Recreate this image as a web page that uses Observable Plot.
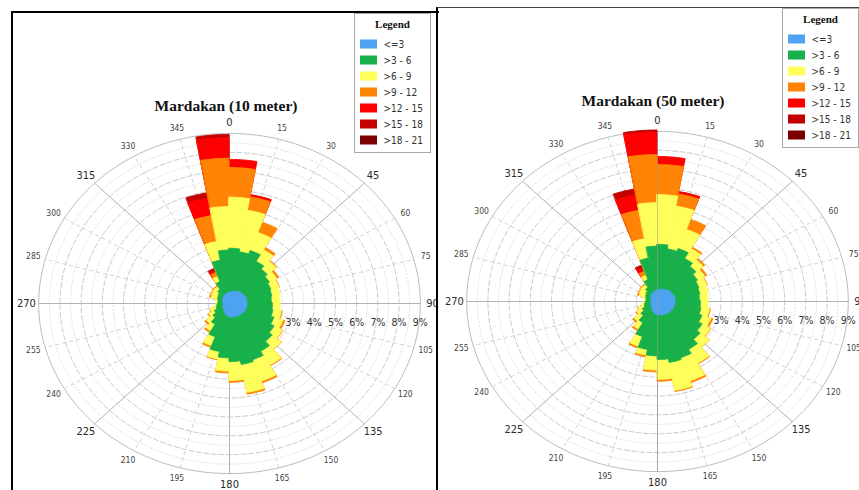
<!DOCTYPE html>
<html>
<head>
<meta charset="utf-8">
<script src="https://cdn.jsdelivr.net/npm/d3@7"></script>
<script src="https://cdn.jsdelivr.net/npm/@observablehq/plot@0.6"></script>
<style>
  html, body { margin: 0; padding: 0; background: #fff; }
  #page { position: relative; width: 859px; height: 490px; overflow: hidden; background: #fff; }
  .panel { position: absolute; top: 0; height: 490px; overflow: hidden; }
  .title { position: absolute; font-family: "Liberation Serif", "Times New Roman", serif; font-weight: bold;
           font-size: 15.5px; line-height: 16px; color: #111; white-space: nowrap; transform: translateX(-50%); }
  .legend { position: absolute; box-sizing: border-box; width: 77px; height: 140px; border: 1px solid #a8a8a8; background: #fff; }
  .legend .lt { position: absolute; left: 0; right: 0; top: 4px; text-align: center; font-family: "Liberation Serif", serif;
                font-weight: bold; font-size: 11px; line-height: 12px; color: #111; }
  .legend .lp { position: absolute; left: 0; top: 20px; }
  .frame { position: absolute; pointer-events: none; }
</style>
</head>
<body>
<div id="page"></div>
<script>
// ---------- categories / ticks ----------
const bins = ["<=3", ">3 - 6", ">6 - 9", ">9 - 12", ">12 - 15", ">15 - 18", ">18 - 21"];
const binColors = ["#4ea3f3", "#17b04a", "#ffff5c", "#ff8405", "#ff0000", "#c40000", "#7c0000"];
const directions = [0,10,20,30,40,50,60,70,80,90,100,110,120,130,140,150,160,170,180,190,200,210,220,230,240,250,260,270,280,290,300,310,320,330,340,350];
const sectorWidth = 10;
const angleLabels = [0,15,30,45,60,75,90,105,120,135,150,165,180,195,210,225,240,255,270,285,300,315,330,345];
const majorRings = [1,2,3,4,5,6,7,8];
const minorRings = [0.5,1.5,2.5,3.5,4.5,5.5,6.5,7.5,8.5];
const outerRing = 9;
const pctTicks = [3,4,5,6,7,8,9];

// ---------- Mardakan 10 m : frequency (%) per direction sector, by speed class ----------
const m10_le3   = [0.58,0.62,0.68,0.72,0.78,0.80,0.82,0.84,0.85,0.85,0.85,0.85,0.84,0.82,0.80,0.78,0.76,0.74,0.68,0.60,0.50,0.42,0.38,0.34,0.30,0.28,0.28,0.28,0.30,0.32,0.35,0.38,0.42,0.46,0.50,0.55];
const m10_3_6   = [2.32,2.13,2.27,1.83,1.57,1.40,1.28,1.21,1.15,1.20,1.25,1.40,1.61,1.83,2.15,2.42,2.54,2.36,2.22,2.00,1.40,0.88,0.62,0.46,0.35,0.32,0.27,0.24,0.22,0.26,0.27,0.30,0.40,0.74,1.80,2.25];
const m10_6_9   = [2.70,2.23,1.02,0.70,0.55,0.40,0.40,0.40,0.40,0.37,0.40,0.45,0.45,0.55,0.85,1.20,1.50,1.00,0.70,0.40,0.50,0.40,0.40,0.30,0.30,0.15,0.07,0.06,0.13,0.32,0.33,0.32,0.18,0.30,1.00,2.30];
const m10_9_12  = [1.57,0.72,0.58,0.15,0.05,0.12,0.03,0.00,0.00,0.00,0.05,0.10,0.03,0.02,0.05,0.10,0.10,0.10,0.10,0.05,0.10,0.10,0.10,0.06,0.03,0.00,0.00,0.00,0.00,0.08,0.05,0.05,0.06,0.22,1.40,2.56];
const m10_12_15 = [0.43,0.10,0,0,0,0,0,0,0,0,0,0,0,0,0,0,0,0,0,0,0,0,0,0,0,0,0,0,0,0,0,0,0,0.10,0.94,1.09];
const m10_15_18 = [0,0.02,0,0,0,0,0,0,0,0,0,0,0,0,0,0,0,0,0,0,0,0,0,0,0,0,0,0,0,0,0,0,0,0.13,0.28,0.17];
const m10_18_21 = [0,0,0,0,0,0,0,0,0,0,0,0,0,0,0,0,0,0,0,0,0,0,0,0,0,0,0,0,0,0,0,0,0,0,0,0];

// ---------- Mardakan 50 m ----------
const m50_le3   = [0.60,0.62,0.68,0.72,0.78,0.80,0.82,0.84,0.85,0.85,0.85,0.85,0.84,0.82,0.80,0.78,0.76,0.74,0.68,0.60,0.50,0.42,0.38,0.34,0.30,0.28,0.28,0.28,0.30,0.32,0.35,0.38,0.42,0.46,0.50,0.55];
const m50_3_6   = [2.40,2.18,2.27,1.88,1.62,1.40,1.28,1.21,1.15,1.20,1.25,1.40,1.61,1.83,2.15,2.42,2.54,2.36,2.22,2.00,1.50,0.90,0.62,0.46,0.35,0.32,0.27,0.24,0.22,0.26,0.27,0.30,0.40,0.74,1.80,2.35];
const m50_6_9   = [2.63,2.30,1.08,0.60,0.45,0.40,0.40,0.40,0.40,0.37,0.40,0.45,0.45,0.55,0.85,1.30,1.50,1.05,0.75,0.30,0.55,0.40,0.40,0.30,0.30,0.15,0.07,0.06,0.13,0.32,0.33,0.32,0.18,0.25,1.04,2.30];
const m50_9_12  = [1.59,0.65,0.57,0.10,0.10,0.12,0.03,0.00,0.00,0.00,0.05,0.10,0.03,0.02,0.05,0.10,0.06,0.10,0.10,0.10,0.10,0.10,0.10,0.06,0.03,0.00,0.00,0.00,0.00,0.08,0.05,0.05,0.06,0.23,1.53,2.55];
const m50_12_15 = [0.43,0.11,0,0,0,0,0,0,0,0,0,0,0,0,0,0,0,0,0,0,0,0,0,0,0,0,0,0,0,0,0,0,0,0.20,0.83,1.17];
const m50_15_18 = [0,0.02,0,0,0,0,0,0,0,0,0,0,0,0,0,0,0,0,0,0,0,0,0,0,0,0,0,0,0,0,0,0,0,0.15,0.32,0.13];
const m50_18_21 = [0,0,0,0,0,0,0,0,0,0,0,0,0,0,0,0,0,0,0,0,0,0,0,0,0,0,0,0,0,0,0,0,0,0,0,0];

const series10 = [m10_le3, m10_3_6, m10_6_9, m10_9_12, m10_12_15, m10_15_18, m10_18_21];
const series50 = [m50_le3, m50_3_6, m50_6_9, m50_9_12, m50_12_15, m50_15_18, m50_18_21];

// ---------- geometry helpers (polar -> cartesian in % units) ----------
const rad = a => a * Math.PI / 180;
const px = (r, a) => r * Math.sin(rad(a));
const py = (r, a) => r * Math.cos(rad(a));

function ringRows(radii) {
  const rows = [];
  for (const r of radii) for (let k = 0; k <= 180; k++) {
    const a = k * 2;
    rows.push({r, x: px(r, a), y: py(r, a)});
  }
  return rows;
}

// cumulative wedges from the centre, outermost class first so the inner ones paint over it
function wedgeRows(series) {
  const rows = [];
  directions.forEach((a0, i) => {
    const cum = [];
    let s = 0;
    series.forEach(vals => { s += vals[i]; cum.push(s); });
    for (let b = series.length - 1; b >= 0; b--) {
      if (!(series[b][i] > 0)) continue;
      const r1 = cum[b];
      const id = i * 10 + (series.length - 1 - b);
      for (let k = 0; k <= 10; k++) {
        const a = a0 + sectorWidth * k / 10;
        rows.push({id, order: i * 10 + (series.length - 1 - b), bin: bins[b], x1: 0, y1: 0, x2: px(r1, a), y2: py(r1, a)});
      }
    }
  });
  return rows;
}

const PXH = 21.2;  // px per 1% horizontally
const PXV = 18.9;  // px per 1% vertically
const labelR = 9.58;

function rose(series, cx, cy, width, axisOnTop) {
  const majorSpokes = angleLabels.filter(a => a % 45 === 0);
  const minorSpokes = angleLabels.filter(a => a % 45 !== 0);
  const rows = wedgeRows(series);
  // draw all sectors' outer classes first, then inner ones (by class rank)
  const byRank = d3.groups(rows, d => d.order % 10).sort((a, b) => a[0] - b[0]).map(g => g[1]);
  return Plot.plot({
    width, height: 490, margin: 0,
    x: {domain: [0, 1], range: [cx, cx + PXH], axis: null},
    y: {domain: [0, 1], range: [cy, cy - PXV], axis: null},
    color: {domain: bins, range: binColors},
    style: {background: "transparent", fontFamily: "'DejaVu Sans Condensed', 'DejaVu Sans', sans-serif", overflow: "visible"},
    marks: [
      Plot.line(ringRows(minorRings), {x: "x", y: "y", z: "r", stroke: "#d2d2d2", strokeWidth: 0.7, strokeDasharray: "1.2,2.2"}),
      Plot.line(ringRows(majorRings), {x: "x", y: "y", z: "r", stroke: "#bcbcbc", strokeWidth: 0.8, strokeDasharray: "5,2.5"}),
      Plot.line(ringRows([outerRing]), {x: "x", y: "y", z: "r", stroke: "#b4b4b4", strokeWidth: 0.9}),
      Plot.link(minorSpokes, {x1: () => 0, y1: () => 0, x2: a => px(outerRing, a), y2: a => py(outerRing, a),
        stroke: "#c6c6c6", strokeWidth: 0.8, strokeDasharray: "4,3"}),
      Plot.link(majorSpokes, {x1: () => 0, y1: () => 0, x2: a => px(outerRing, a), y2: a => py(outerRing, a),
        stroke: "#a9a9a9", strokeWidth: 0.9}),
      ...byRank.map(rs => Plot.area(rs, {x1: "x1", y1: "y1", x2: "x2", y2: "y2", z: "id", fill: "bin", stroke: "bin",
        strokeWidth: 0.9, strokeLinejoin: "round"})),
      ...(axisOnTop ? [Plot.link([0], {x1: () => 0, y1: () => outerRing, x2: () => 0, y2: () => -outerRing,
        stroke: "#9a9a9a", strokeWidth: 0.7, strokeOpacity: 0.8})] : []),
      Plot.text(majorSpokes, {x: a => px(labelR, a), y: a => py(labelR, a), text: a => String(a),
        fontSize: 11, fill: "#2a2a2a", textAnchor: "middle", lineAnchor: "middle"}),
      Plot.text(minorSpokes, {x: a => px(labelR, a), y: a => py(labelR, a), text: a => String(a),
        fontSize: 8.5, fill: "#444", textAnchor: "middle", lineAnchor: "middle"}),
      Plot.text(pctTicks, {x: d => d, y: () => -1.0, text: d => d + "%", fontSize: 10.5, fill: "#333",
        textAnchor: "middle", lineAnchor: "middle"})
    ]
  });
}

function legendPlot() {
  return Plot.plot({
    width: 75, height: 119, margin: 0,
    x: {domain: [0, 1], range: [5, 22], axis: null},
    y: {type: "band", domain: bins, range: [1, 114], padding: 0, axis: null},
    color: {domain: bins, range: binColors},
    style: {background: "transparent", fontFamily: "'DejaVu Sans Condensed', 'DejaVu Sans', sans-serif"},
    marks: [
      Plot.barX(bins, {y: d => d, x1: () => 0, x2: () => 1, fill: d => d, insetTop: 3.5, insetBottom: 3.5}),
      Plot.text(bins, {y: d => d, x: () => 1, dx: 6, text: d => d, textAnchor: "start", fontSize: 10, fill: "#333"})
    ]
  });
}

// ---------- layout ----------
const page = document.getElementById("page");

function addPanel(left, width, series, cx, cy, axisOnTop, title, titleX, titleTop, legLeft, legTop) {
  const p = document.createElement("div");
  p.className = "panel";
  p.style.left = left + "px";
  p.style.width = width + "px";
  p.appendChild(rose(series, cx, cy, width, axisOnTop));
  page.appendChild(p);

  const t = document.createElement("div");
  t.className = "title";
  t.textContent = title;
  t.style.left = titleX + "px";
  t.style.top = titleTop + "px";
  page.appendChild(t);

  const lg = document.createElement("div");
  lg.className = "legend";
  lg.style.left = legLeft + "px";
  lg.style.top = legTop + "px";
  const lt = document.createElement("div");
  lt.className = "lt";
  lt.textContent = "Legend";
  lg.appendChild(lt);
  const lp = document.createElement("div");
  lp.className = "lp";
  lp.appendChild(legendPlot());
  lg.appendChild(lp);
  page.appendChild(lg);
}

addPanel(0, 437, series10, 229, 303, false, "Mardakan (10 meter)", 226, 98, 354, 13);
addPanel(437, 422, series50, 220, 301, true, "Mardakan (50 meter)", 653, 93, 782, 8);

// frames
function frame(style) {
  const f = document.createElement("div");
  f.className = "frame";
  Object.assign(f.style, style);
  page.appendChild(f);
}
frame({left: "11px", top: "11px", width: "426px", height: "480px", borderLeft: "2.5px solid #000", borderTop: "2px solid #000"});
frame({left: "435.5px", top: "7px", width: "424px", height: "484px", borderLeft: "2.5px solid #000", borderTop: "1.2px solid #444"});
</script>
</body>
</html>
